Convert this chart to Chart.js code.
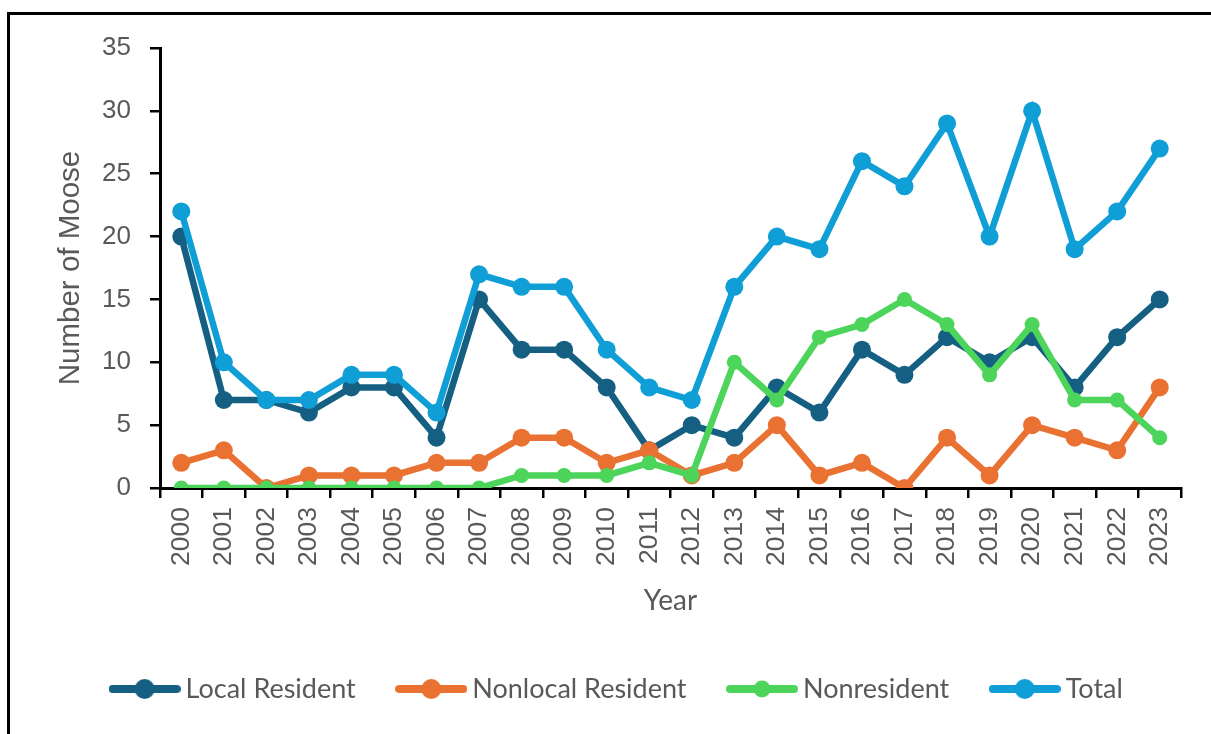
<!DOCTYPE html>
<html>
<head>
<meta charset="utf-8">
<script src="https://cdn.jsdelivr.net/npm/chart.js@4"></script>
<style>
html, body { margin: 0; padding: 0; background: #fff; overflow: hidden; }
#frame { position: absolute; left: 7px; top: 12px; width: 1400px; height: 900px; border-left: 3px solid #000; border-top: 3px solid #000; }
#wrap { position: absolute; left: 0; top: 0; width: 1211px; height: 734px; }
</style>
</head>
<body>
<div id="frame"></div>
<div id="wrap"><canvas id="mooseChart" width="1211" height="734"></canvas></div>
<script>
// ---------------- data ----------------
const years = ['2000', '2001', '2002', '2003', '2004', '2005', '2006', '2007', '2008', '2009', '2010', '2011',
    '2012', '2013', '2014', '2015', '2016', '2017', '2018', '2019', '2020', '2021', '2022', '2023'];
const localResident = [20, 7, 7, 6, 8, 8, 4, 15, 11, 11, 8, 3, 5, 4, 8, 6, 11, 9, 12, 10, 12, 8, 12, 15];
const nonlocalResident = [2, 3, 0, 1, 1, 1, 2, 2, 4, 4, 2, 3, 1, 2, 5, 1, 2, 0, 4, 1, 5, 4, 3, 8];
const nonresident = [0, 0, 0, 0, 0, 0, 0, 0, 1, 1, 1, 2, 1, 10, 7, 12, 13, 15, 13, 9, 13, 7, 7, 4];
const total = [22, 10, 7, 7, 9, 9, 6, 17, 16, 16, 11, 8, 7, 16, 20, 19, 26, 24, 29, 20, 30, 19, 22, 27];
const yMin = 0;
const yMax = 35;
const yStep = 5;

const grey = '#595959';

// petit dessin ligne + rond pour la légende
function legendMark(color, radius) {
    const c = document.createElement('canvas');
    c.width = 72;
    c.height = 22;
    const g = c.getContext('2d');
    g.strokeStyle = color;
    g.lineWidth = 8;
    g.lineCap = 'round';
    g.beginPath();
    g.moveTo(4, 11);
    g.lineTo(68, 11);
    g.stroke();
    g.fillStyle = color;
    g.beginPath();
    g.arc(36, 11, radius, 0, Math.PI * 2);
    g.fill();
    return c;
}

function serie(label, data, color, radius, order) {
    return {
        label: label,
        data: data,
        borderColor: color,
        backgroundColor: color,
        borderWidth: 6.5,
        pointRadius: radius,
        pointHoverRadius: radius,
        pointBorderWidth: 0,
        pointBackgroundColor: color,
        tension: 0,
        order: order,
        mark: legendMark(color, radius + 1)
    };
}

const ctx = document.querySelector('#mooseChart').getContext('2d');

const lineChart = new Chart(ctx, {
    type: 'line',
    data: {
        labels: years,
        datasets: [
            serie('Local Resident', localResident, '#156082', 9, 4),
            serie('Nonlocal Resident', nonlocalResident, '#E97132', 9, 3),
            serie('Nonresident', nonresident, '#4CD45B', 7.5, 2),
            serie('Total', total, '#0F9ED5', 9, 1)
        ]
    },
    options: {
        responsive: false,
        animation: false,
        devicePixelRatio: 1,
        layout: {
            padding: { left: 59, right: 30, top: 48, bottom: 21.5 }
        },
        plugins: {
            tooltip: { enabled: false },
            legend: {
                position: 'bottom',
                labels: {
                    usePointStyle: true,
                    pointStyleWidth: 55,
                    padding: 48,
                    color: grey,
                    font: { family: 'Lato', size: 27 },
                    generateLabels: function (chart) {
                        return chart.data.datasets.map(function (ds, i) {
                            return {
                                text: ds.label,
                                fillStyle: ds.borderColor,
                                strokeStyle: ds.borderColor,
                                lineWidth: 0,
                                pointStyle: ds.mark,
                                fontColor: grey,
                                hidden: false,
                                datasetIndex: i
                            };
                        });
                    }
                }
            }
        },
        scales: {
            x: {
                offset: true,
                grid: { offset: true, drawOnChartArea: false, color: '#000', lineWidth: 2.5, tickLength: 10 },
                border: { color: '#000', width: 3 },
                ticks: {
                    autoSkip: false,
                    minRotation: 90,
                    maxRotation: 90,
                    padding: 9,
                    color: grey,
                    font: { family: 'Liberation Sans', size: 26.5 }
                },
                title: {
                    display: true,
                    text: 'Year',
                    color: grey,
                    font: { family: 'Lato', size: 28 },
                    padding: { top: 0, bottom: 10 }
                },
                afterFit: function (scale) { scale.height = 139.5; }
            },
            y: {
                min: yMin,
                max: yMax,
                grid: { drawOnChartArea: false, color: '#000', lineWidth: 2.5, tickLength: 10 },
                border: { color: '#000', width: 3 },
                ticks: {
                    stepSize: yStep,
                    padding: 19,
                    color: grey,
                    font: { family: 'Liberation Sans', size: 26 }
                },
                title: {
                    display: true,
                    text: 'Number of Moose',
                    color: grey,
                    font: { family: 'Liberation Sans', size: 29.5, lineHeight: 0.8 },
                    padding: 0
                },
                afterFit: function (scale) { scale.width = 101; }
            }
        }
    }
});
</script>
</body>
</html>
